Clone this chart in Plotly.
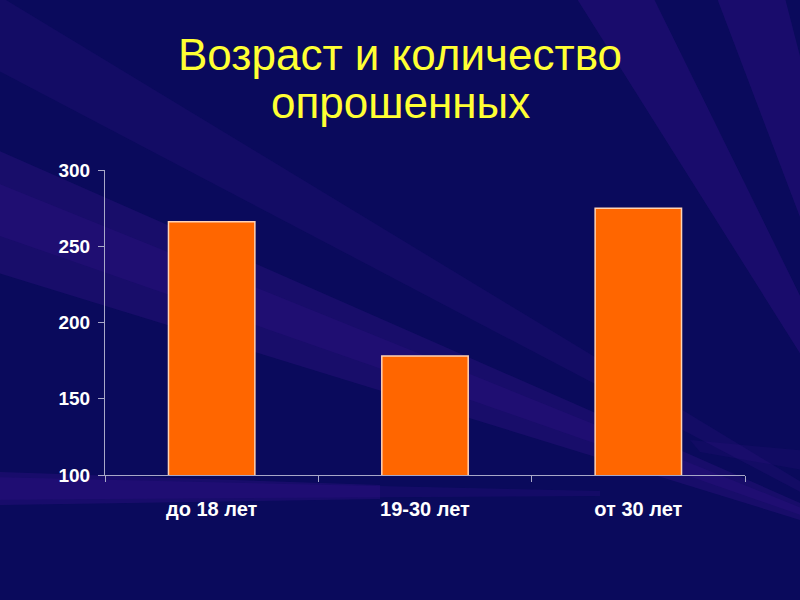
import plotly.graph_objects as go

categories = ["до 18 лет", "19-30 лет", "от 30 лет"]
values = [266, 178, 275]
y_ticks = [100, 150, 200, 250, 300]
title_lines = ["Возраст и количество", "опрошенных"]

W, H = 800, 600
L, R, T, B = 105, 55, 170, 125
PW, PH = W - L - R, H - T - B
FONT = "Liberation Sans, Arial"


def px(x, y):
    return (x - L) / PW, (H - B - y) / PH


fig = go.Figure()
fig.add_trace(go.Bar(
    x=categories, y=values,
    marker=dict(color="#ff6600", line=dict(color="#ffd2b4", width=1.5)),
    width=0.405,
))

# decorative background rays (polygons in pixel space)
src = (930, 560)
polys = [
    ([src, (-60, 125), (-60, 255)], 0.28),
    ([src, (-60, 160), (-60, 215)], 0.22),
    ([src, (-60, -40), (-60, 40)], 0.18),
    ([(-60, 470), (-60, 506), (380, 499), (380, 485)], 0.30),
    ([(-60, 476), (-60, 500), (600, 496), (600, 491)], 0.22),
    ([src, (540, -60), (625, -60)], 0.32),
    ([src, (695, -60), (770, -60)], 0.32),
    ([src, (870, 260), (870, 330)], 0.18),
    ([(690, 440), (700, 452), (860, 480), (860, 456)], 0.15),
]
shapes = []
for pts, op in polys:
    pp = [px(*p) for p in pts]
    path = "M " + " L ".join(f"{a},{b}" for a, b in pp) + " Z"
    shapes.append(dict(
        type="path", xref="paper", yref="paper", layer="below",
        path=path, fillcolor="#3c1490", opacity=op, line=dict(width=0),
    ))

annotations = []
for i, line in enumerate(title_lines):
    xx, yy = px(400, 54 + 48 * i)
    annotations.append(dict(
        text=line, xref="paper", yref="paper", x=xx, y=yy,
        xanchor="center", yanchor="middle", showarrow=False,
        font=dict(family=FONT, size=44, color="#ffff33"),
    ))

fig.update_layout(
    width=W, height=H,
    margin=dict(l=L, r=R, t=T, b=B, pad=0),
    paper_bgcolor="#0a0a5c",
    plot_bgcolor="rgba(0,0,0,0)",
    showlegend=False,
    shapes=shapes,
    annotations=annotations,
    font=dict(family=FONT, color="white"),
    xaxis=dict(
        showgrid=False, zeroline=False, showline=True,
        linecolor="#a8a8c8", linewidth=1.2,
        ticks="outside", tickson="boundaries", ticklen=6, tickcolor="#a8a8c8",
        tickfont=dict(size=20, color="white", family=FONT, weight="bold"),
        ticklabelstandoff=16,
    ),
    yaxis=dict(
        range=[100, 300], tickvals=y_ticks,
        showgrid=False, zeroline=False, showline=True,
        linecolor="#a8a8c8", linewidth=1.2,
        ticks="outside", ticklen=6, tickcolor="#a8a8c8",
        tickfont=dict(size=19, color="white", family=FONT, weight="bold"),
        ticklabelstandoff=4,
    ),
)

fig.write_html(
    "out.html",
    config={"displayModeBar": False},
    post_script="document.body.style.margin='0';document.body.style.background='#0a0a5c';",
)
